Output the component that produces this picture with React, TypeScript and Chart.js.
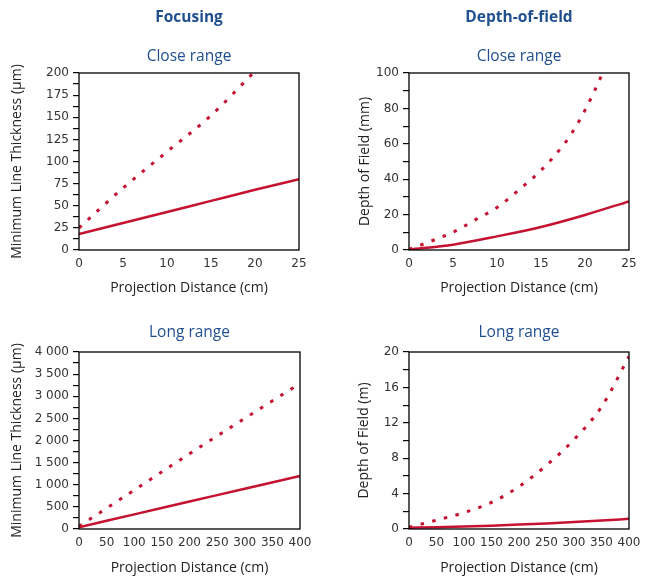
import React, { useEffect, useRef } from 'react';
import { Chart, registerables } from 'chart.js';

Chart.register(...registerables);

const RED = '#c41230';
const BLUE = '#1f4f8f';

// ---- Focusing, close range (distance cm -> minimum line thickness µm)
const focusCloseSolidDist = [0, 5, 10, 15, 20, 25];
const focusCloseSolid = [18, 30.5, 43, 55.5, 68, 80];
const focusCloseDottedDist = [0, 5, 10, 15, 19.8];
const focusCloseDotted = [25, 70, 111, 152, 200];

// ---- Depth-of-field, close range (distance cm -> depth of field mm)
const dofCloseSolidDist = [0, 5, 10, 15, 20, 25];
const dofCloseSolid = [0.3, 3, 7.7, 13, 19.8, 27.5];
const dofCloseDottedDist = [0, 2.5, 5, 7.5, 10, 12.5, 15, 17.5, 18.75, 20, 21, 22];
const dofCloseDotted = [0.3, 5, 10, 17, 24, 34, 45, 59, 68, 79, 89, 100];

// ---- Focusing, long range (distance cm -> minimum line thickness µm)
const focusLongDist = [0, 100, 200, 300, 400];
const focusLongSolid = [40, 330, 620, 910, 1200];
const focusLongDotted = [60, 880, 1700, 2500, 3290];

// ---- Depth-of-field, long range (distance cm -> depth of field m)
const dofLongDist = [0, 50, 100, 150, 200, 250, 300, 350, 400];
const dofLongSolid = [0.15, 0.2, 0.28, 0.38, 0.5, 0.63, 0.78, 0.95, 1.15];
const dofLongDotted = [0.2, 1.0, 1.85, 3.0, 4.8, 7.2, 10.1, 13.8, 19.5];

// ---- Axis settings
const closeXMax = 25;
const closeXStep = 5;
const longXMax = 400;
const longXStep = 50;

const xTitle = 'Projection Distance (cm)';

function fmtThousands(v: number): string {
  if (v >= 1000) {
    const th = Math.floor(v / 1000);
    const rest = String(Math.round(v % 1000)).padStart(3, '0');
    return `${th} ${rest}`;
  }
  return String(v);
}

const framePlugin = {
  id: 'frame',
  afterDraw(chart: any) {
    const { ctx, chartArea } = chart;
    ctx.save();
    ctx.strokeStyle = '#000';
    ctx.lineWidth = 1.3;
    ctx.strokeRect(chartArea.left, chartArea.top, chartArea.right - chartArea.left, chartArea.bottom - chartArea.top);
    ctx.restore();
  },
};

type Spec = {
  left: number; top: number; w: number; h: number;
  header?: string; sub: string;
  yTitle: string; yTitlePad: number;
  yMax: number; yStep: number; yEvery: number;
  xMax: number; xStep: number;
  xScaleH: number; xTitlePadBottom: number;
  padRight: number;
  solidX: number[]; solidY: number[];
  dotX: number[]; dotY: number[];
};

function pts(xs: number[], ys: number[]) {
  return xs.map((x, i) => ({ x, y: ys[i] }));
}

function buildConfig(s: Spec): any {
  const tickFont = { family: '"DejaVu Sans", sans-serif', size: 12 };
  const titleFont = { family: '"Open Sans", sans-serif', size: 14 };
  const plugins: any = {
    legend: { display: false },
    tooltip: { enabled: false },
  };
  if (s.header) {
    plugins.title = {
      display: true, text: s.header, color: BLUE, fullSize: false,
      font: { family: '"Open Sans", sans-serif', size: 15.5, weight: 'bold' },
      padding: { top: 8, bottom: 21.1 },
    };
    plugins.subtitle = {
      display: true, text: s.sub, color: BLUE, fullSize: false,
      font: { family: '"Open Sans", sans-serif', size: 15.5, weight: 'normal' },
      padding: { top: 0, bottom: 6.7 },
    };
  } else {
    plugins.title = {
      display: true, text: s.sub, color: BLUE, fullSize: false,
      font: { family: '"Open Sans", sans-serif', size: 15.5, weight: 'normal' },
      padding: { top: 23.7, bottom: 9.7 },
    };
    plugins.subtitle = { display: false };
  }
  return {
    type: 'line',
    data: {
      datasets: [
        {
          data: pts(s.dotX, s.dotY),
          borderColor: RED, borderWidth: 3, borderDash: [3.5, 8.5], borderCapStyle: 'butt',
          pointRadius: 0, cubicInterpolationMode: 'monotone', fill: false,
        },
        {
          data: pts(s.solidX, s.solidY),
          borderColor: RED, borderWidth: 2.5,
          pointRadius: 0, cubicInterpolationMode: 'monotone', fill: false,
        },
      ],
    },
    options: {
      animation: false,
      responsive: false,
      maintainAspectRatio: false,
      layout: { padding: { left: 0, right: s.padRight, top: 0, bottom: 0 } },
      plugins,
      scales: {
        x: {
          type: 'linear', min: 0, max: s.xMax,
          ticks: { stepSize: s.xStep, padding: 7, autoSkip: false, maxRotation: 0, font: tickFont, color: '#333' },
          grid: { display: false, drawTicks: false },
          border: { display: false },
          title: { display: true, text: xTitle, color: '#222', font: titleFont, padding: { top: 0, bottom: s.xTitlePadBottom } },
          afterFit: (sc: any) => { sc.height = s.xScaleH; },
        },
        y: {
          type: 'linear', min: 0, max: s.yMax,
          ticks: {
            stepSize: s.yStep, padding: 4, autoSkip: false, font: tickFont, color: '#333',
            callback: (v: any) => {
              const n = Number(v);
              const r = n / s.yEvery;
              return Math.abs(r - Math.round(r)) < 1e-6 ? fmtThousands(n) : '';
            },
          },
          grid: { display: true, drawOnChartArea: false, drawTicks: true, tickLength: 6, color: '#000', lineWidth: 1.2 },
          border: { display: false },
          title: { display: true, text: s.yTitle, color: '#222', font: titleFont, padding: { top: s.yTitlePad, bottom: 0 } },
          afterFit: (sc: any) => { sc.width = 79; },
        },
      },
    },
    plugins: [framePlugin],
  };
}

const specs: Spec[] = [
  {
    left: 0, top: 0, w: 330, h: 300, header: 'Focusing', sub: 'Close range',
    yTitle: 'Minimum Line Thickness (µm)', yTitlePad: 8.6,
    yMax: 200, yStep: 12.5, yEvery: 25, xMax: closeXMax, xStep: closeXStep,
    xScaleH: 50, xTitlePadBottom: 3.6, padRight: 31,
    solidX: focusCloseSolidDist, solidY: focusCloseSolid,
    dotX: focusCloseDottedDist, dotY: focusCloseDotted,
  },
  {
    left: 330, top: 0, w: 329, h: 300, header: 'Depth-of-field', sub: 'Close range',
    yTitle: 'Depth of Field (mm)', yTitlePad: 26.6,
    yMax: 100, yStep: 10, yEvery: 20, xMax: closeXMax, xStep: closeXStep,
    xScaleH: 50, xTitlePadBottom: 3.6, padRight: 30,
    solidX: dofCloseSolidDist, solidY: dofCloseSolid,
    dotX: dofCloseDottedDist, dotY: dofCloseDotted,
  },
  {
    left: 0, top: 300, w: 330, h: 285, sub: 'Long range',
    yTitle: 'Minimum Line Thickness (µm)', yTitlePad: 8.6,
    yMax: 4000, yStep: 250, yEvery: 500, xMax: longXMax, xStep: longXStep,
    xScaleH: 56, xTitlePadBottom: 8.6, padRight: 30,
    solidX: focusLongDist, solidY: focusLongSolid,
    dotX: focusLongDist, dotY: focusLongDotted,
  },
  {
    left: 330, top: 300, w: 329, h: 285, sub: 'Long range',
    yTitle: 'Depth of Field (m)', yTitlePad: 25.6,
    yMax: 20, yStep: 2, yEvery: 4, xMax: longXMax, xStep: longXStep,
    xScaleH: 56, xTitlePadBottom: 8.6, padRight: 30,
    solidX: dofLongDist, solidY: dofLongSolid,
    dotX: dofLongDist, dotY: dofLongDotted,
  },
];

function Panel({ spec }: { spec: Spec }) {
  const ref = useRef<HTMLCanvasElement>(null);
  useEffect(() => {
    const chart = new Chart(ref.current as HTMLCanvasElement, buildConfig(spec));
    return () => chart.destroy();
  }, [spec]);
  return (
    <canvas
      ref={ref}
      width={spec.w}
      height={spec.h}
      style={{ position: 'absolute', left: spec.left, top: spec.top, width: spec.w, height: spec.h }}
    />
  );
}

export default function App() {
  return (
    <div style={{ position: 'absolute', left: 0, top: 0, width: 659, height: 585, background: '#fff' }}>
      {specs.map((s, i) => (
        <Panel key={i} spec={s} />
      ))}
    </div>
  );
}
